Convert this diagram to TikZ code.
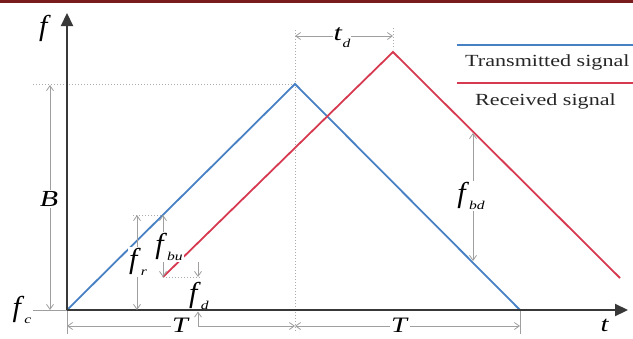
\documentclass[tikz,border=0pt]{standalone}
\usepackage{fontspec}
\usepackage{graphicx}
\setmainfont{Liberation Serif}
\usetikzlibrary{arrows.meta}
\definecolor{txblue}{RGB}{72,128,196}
\definecolor{rxred}{RGB}{214,58,80}
\definecolor{band}{RGB}{122,28,30}
\newcommand\hs[1]{\scalebox{1.3}[1]{#1}}
\newcommand\ff{\scalebox{1}[1.25]{\textit{f}}}
\newcommand\sub[1]{\raisebox{-0.3em}{\fontsize{12}{13}\selectfont\textit{#1}}}
\tikzset{
  axisline/.style={line width=2.2pt, draw=black!78, -{Triangle[length=13pt,width=12pt]}},
  txline/.style={line width=1.8pt, draw=txblue},
  rxline/.style={line width=1.8pt, draw=rxred},
  guide/.style={draw=gray!65, line width=1pt, dotted},
  dimline/.style={draw=gray!75, line width=0.8pt},
  dimarr/.style={dimline, {Straight Barb[length=5pt,width=7pt]}-{Straight Barb[length=5pt,width=7pt]}},
  lbl/.style={font=\fontsize{23}{25}\selectfont, inner sep=1pt},
  wlbl/.style={lbl, fill=white},
  legtext/.style={font=\fontsize{17}{19}\selectfont, inner sep=0pt, anchor=base west, text=black!85}
}
\begin{document}
\begin{tikzpicture}[x=1pt,y=-1pt]
\useasboundingbox (0,0) rectangle (633,338);
\fill[band] (0,0) rectangle (633,2.6);
% key points
\coordinate (O) at (67,310);
\coordinate (Ytop) at (67,13);
\coordinate (Xend) at (628,310);
\coordinate (P) at (295,84);
\coordinate (E) at (520,310);
\coordinate (R0) at (163,277);
\coordinate (RP) at (393,52);
\coordinate (RE) at (620,278);
% guides
\coordinate (Bl) at (33,84);
\coordinate (Pt) at (295,30);
\coordinate (Pb) at (295,332);
\coordinate (RPt) at (393,28);
\coordinate (RPb) at (393,49);
\draw[guide] (Bl) -- (P);
\draw[guide] (Pt) -- (Pb);
\draw[guide] (RPt) -- (RPb);
\coordinate (fcl) at (33,310);
\draw[dimline] (fcl) -- (O);
\coordinate (Ot) at (67,334);
\coordinate (Et) at (520,334);
\draw[dimline] (O) -- (Ot);
\draw[dimline] (E) -- (Et);
% signals
\draw[txline] (O) -- (P) -- (E);
\draw[rxline] (R0) -- (RP) -- (RE);
% axes
\draw[axisline] (O) -- (Ytop);
\draw[axisline] (O) -- (Xend);
% B
\coordinate (Bt) at (50,85);
\coordinate (Bb) at (50,310);
\draw[dimarr] (Bt) -- (Bb);
\node[wlbl] (B) at (49,199) {\hs{\textit{B}}};
% f_r
\coordinate (frt) at (137,215);
\coordinate (frb) at (137,310);
\coordinate (frh) at (164,215);
\coordinate (frh0) at (133,215);
\draw[guide] (frh0) -- (frh);
\draw[dimarr] (frt) -- (frb);
\node[wlbl] (fr) at (138,262) {\hs{\ff\sub{r}}};
% f_bu
\coordinate (fbut) at (163,215);
\draw[dimarr] (fbut) -- (R0);
\node[wlbl] (fbu) at (169,247) {\hs{\ff\sub{bu}}};
% f_d
\coordinate (fdh) at (201,277);
\draw[guide] (R0) -- (fdh);
\coordinate (fda) at (198,262);
\coordinate (fdb) at (198,277);
\draw[dimline,-{Straight Barb[length=5pt,width=7pt]}] (fda) -- (fdb);
\node[lbl] (fd) at (199,296) {\hs{\ff\sub{d}}};
% T dimensions
\coordinate (T1l) at (67,326);
\coordinate (fdc) at (198,311.5);
\coordinate (T1r) at (295,326);
\coordinate (T2r) at (520,326);
\node[lbl, font=\fontsize{22}{24}\selectfont] (T1) at (181,325) {\hs{\textit{T}}};
\draw[dimline,{Straight Barb[length=5pt,width=7pt]}-] (T1l) -- (T1.west |- T1l);
\draw[dimarr] (fdc) |- (T1r);
\draw[dimarr] (T1r) -- (T2r);
\node[wlbl, font=\fontsize{22}{24}\selectfont] (T2) at (400,325) {\hs{\textit{T}}};
\node[lbl, font=\fontsize{22}{24}\selectfont] (t) at (605,325) {\hs{\textit{t}}};
% f axis label and f_c
\node[lbl] (f) at (45,28) {\hs{\ff}};
\node[lbl] (fc) at (22,310) {\hs{\ff\sub{c}}};
% t_d
\coordinate (tdl) at (295,36);
\coordinate (tdr) at (393,36);
\draw[dimarr] (tdl) -- (tdr);
\node[wlbl] (td) at (342,38) {\hs{\textit{t}\sub{d}}};
% f_bd
\coordinate (fbdt) at (473,133);
\coordinate (fbdb) at (473,261);
\draw[dimarr] (fbdt) -- (fbdb);
\node[wlbl] (fbd) at (471,196) {\hs{\ff\sub{bd}}};
% legend
\coordinate (L1a) at (457,45);
\coordinate (L1b) at (633,45);
\coordinate (L2a) at (457,83);
\coordinate (L2b) at (633,83);
\draw[txline, line width=2pt] (L1a) -- (L1b);
\draw[rxline, line width=2pt] (L2a) -- (L2b);
\node[legtext] (lt) at (465,66) {\hs{Transmitted signal}};
\node[legtext] (lr) at (475,105) {\hs{Received signal}};
\end{tikzpicture}
\end{document}
